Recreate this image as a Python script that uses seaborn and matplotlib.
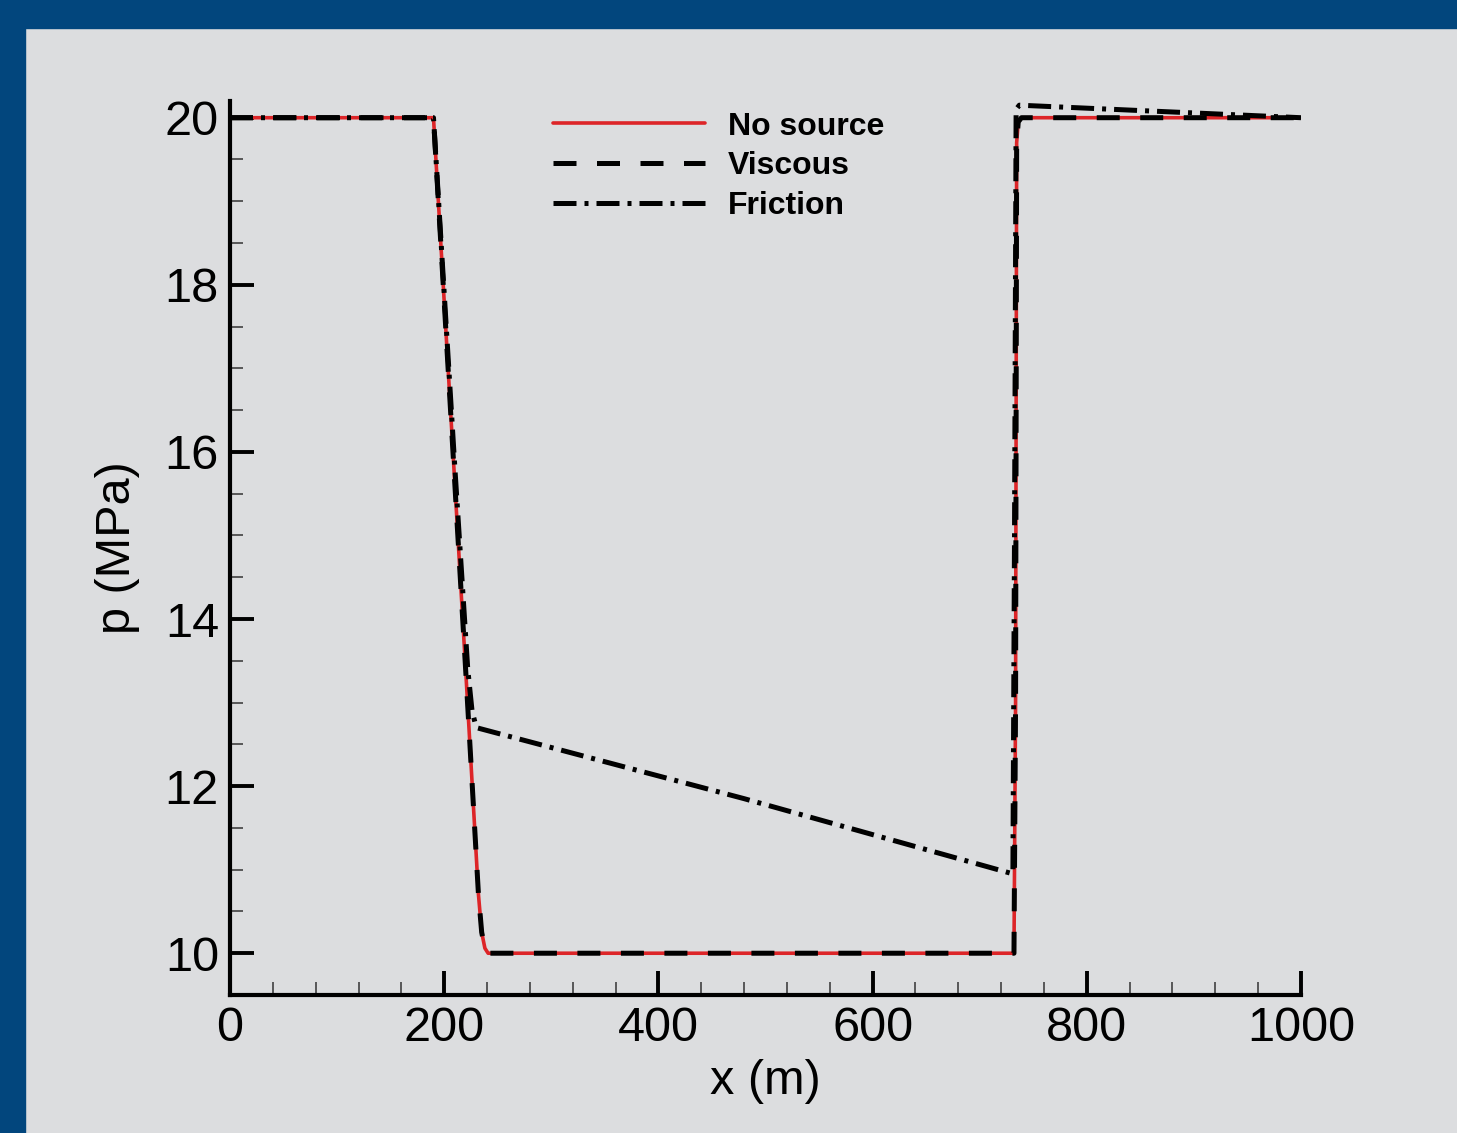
import matplotlib
matplotlib.use("Agg")
import matplotlib.pyplot as plt
from matplotlib.patches import Rectangle
from matplotlib.ticker import MultipleLocator
import seaborn as sns
import pandas as pd

# pressure profiles (x in m, p in MPa)
x_nosource = [0, 190, 200, 210, 220, 228, 232, 235, 238, 241, 500, 732, 733.5, 734.5, 736, 739, 1000]
p_nosource = [20, 20, 17.8, 15.6, 13.4, 11.6, 10.7, 10.25, 10.06, 10.0, 10.0, 10.0, 13.0, 19.7, 19.95, 20.0, 20.0]

x_viscous = x_nosource
p_viscous = p_nosource

x_friction = [0, 190, 200, 210, 216, 222, 226, 230, 480, 731, 732.5, 734, 737, 1000]
p_friction = [20, 20, 17.9, 15.8, 14.6, 13.4, 12.9, 12.7, 11.85, 10.95, 15.0, 20.1, 20.15, 20.0]

labels = ["No source", "Viscous", "Friction"]

BG = "#DCDDDF"
BLUE = "#02467D"

sns.set_theme(style="ticks")
plt.rcParams["font.family"] = ["Liberation Sans", "DejaVu Sans"]
plt.rcParams["text.color"] = "black"
plt.rcParams["axes.labelcolor"] = "black"
plt.rcParams["xtick.color"] = "black"
plt.rcParams["ytick.color"] = "black"

fig = plt.figure(figsize=(14.57, 11.33), dpi=100, facecolor=BG)
ax = fig.add_axes([230 / 1457, 1 - 995 / 1133, 1071 / 1457, 894 / 1133])
ax.set_facecolor(BG)

# blue frame strips along the top and left
fig.patches.append(Rectangle((0, 1 - 28 / 1133), 1, 28 / 1133, transform=fig.transFigure,
                             color=BLUE, zorder=-1))
fig.patches.append(Rectangle((0, 0), 25 / 1457, 1, transform=fig.transFigure,
                             color=BLUE, zorder=-1))

df_ns = pd.DataFrame({"x": x_nosource, "p": p_nosource})
df_v = pd.DataFrame({"x": x_viscous, "p": p_viscous})
df_f = pd.DataFrame({"x": x_friction, "p": p_friction})

sns.lineplot(data=df_ns, x="x", y="p", ax=ax, color="#DD2528", lw=2.6,
             sort=False, estimator=None, label=labels[0])
sns.lineplot(data=df_v, x="x", y="p", ax=ax, color="black", lw=3.6,
             linestyle=(0, (4.6, 4.1)), sort=False, estimator=None, label=labels[1])
sns.lineplot(data=df_f, x="x", y="p", ax=ax, color="black", lw=3.6,
             linestyle=(0, (4.6, 1.6, 0.8, 1.6)), sort=False, estimator=None, label=labels[2])

ax.set_xlim(0, 1000)
ax.set_ylim(9.5, 20.2)
ax.xaxis.set_major_locator(MultipleLocator(200))
ax.xaxis.set_minor_locator(MultipleLocator(40))
ax.yaxis.set_major_locator(MultipleLocator(2))
ax.yaxis.set_minor_locator(MultipleLocator(0.5))

for side in ["top", "right"]:
    ax.spines[side].set_visible(False)
for side in ["left", "bottom"]:
    ax.spines[side].set_linewidth(3)
    ax.spines[side].set_color("black")

ax.tick_params(which="major", direction="in", length=17, width=2.8, labelsize=35,
               colors="black", pad=8)
ax.tick_params(which="minor", direction="in", length=9.5, width=1.1, colors="#333333")

ax.set_xlabel("x (m)", fontsize=35, labelpad=6)
ax.set_ylabel("p (MPa)", fontsize=35, labelpad=18)

leg = ax.legend(loc="upper left", bbox_to_anchor=(0.287, 1.006), frameon=False,
                borderpad=0, handlelength=4.75, handletextpad=0.72, labelspacing=0.3,
                prop={"weight": "bold", "size": 23})

fig.savefig("out.png", dpi=100, facecolor=BG)
